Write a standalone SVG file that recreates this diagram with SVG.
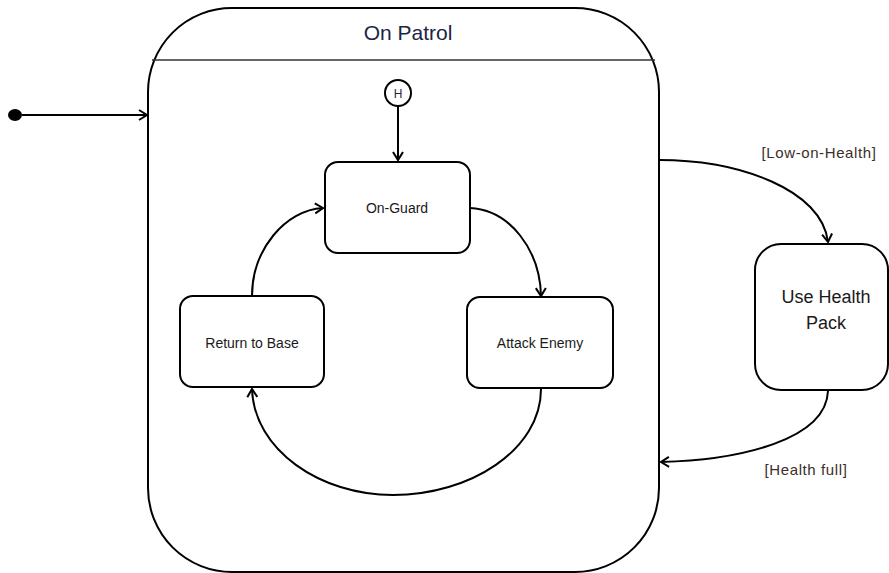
<svg xmlns="http://www.w3.org/2000/svg" width="889" height="573" viewBox="0 0 889 573">
<defs>
<marker id="arr" markerUnits="userSpaceOnUse" markerWidth="14" markerHeight="14" refX="9" refY="6" orient="auto">
<path d="M1,1 L9,6 L1,11" fill="none" stroke="#000" stroke-width="2"/>
</marker>
<style>
.box{fill:#fff;stroke:#000;stroke-width:2}
.edge{fill:none;stroke:#000;stroke-width:2;marker-end:url(#arr)}
.t{font-family:"Liberation Sans",Arial,sans-serif;fill:#1a1a1a;text-anchor:middle}
.lbl{font-family:"Liberation Sans",Arial,sans-serif;fill:#3a2f2a;font-size:15px;text-anchor:middle;letter-spacing:0.6px}
</style>
</defs>
<rect width="889" height="573" fill="#fff"/>
<g id="onpatrol">
<rect class="box" x="148" y="8" width="511" height="564" rx="84" ry="84"/>
<line x1="152" y1="60" x2="655" y2="60" stroke="#333" stroke-width="1.5"/>
<text class="t" x="408" y="40" font-size="21" fill="#1c2541" style="fill:#1c2541">On Patrol</text>
</g>
<g id="initial">
<ellipse cx="15" cy="115" rx="7" ry="6" fill="#000"/>
</g>
<g id="history">
<circle cx="398" cy="93" r="13" fill="#fff" stroke="#000" stroke-width="2"/>
<text class="t" x="398" y="98" font-size="12" style="fill:#2a1a4a">H</text>
</g>
<g id="onguard">
<rect class="box" x="325" y="162" width="145" height="91" rx="13" ry="13"/>
<text class="t" x="397" y="213" font-size="14">On-Guard</text>
</g>
<g id="returntobase">
<rect class="box" x="180" y="296" width="144" height="91" rx="13" ry="13"/>
<text class="t" x="252" y="348" font-size="14">Return to Base</text>
</g>
<g id="attackenemy">
<rect class="box" x="467" y="297" width="146" height="91" rx="13" ry="13"/>
<text class="t" x="540" y="348" font-size="14">Attack Enemy</text>
</g>
<g id="usehealthpack">
<rect class="box" x="755" y="244" width="133" height="146" rx="26" ry="26"/>
<text class="t" x="826" y="303" font-size="18">Use Health</text>
<text class="t" x="826" y="329" font-size="18">Pack</text>
</g>
<g id="connectors">
<path class="edge" d="M22,115 L147,115"/>
<path class="edge" d="M398,106 L398,160"/>
<path class="edge" d="M470,208 C510,210 540,250 541,296"/>
<path class="edge" d="M252,296 C252,250 285,210 323,208"/>
<path class="edge" d="M541,389 C541,450 470,495 393,495 C320,495 254,450 252,389"/>
<path class="edge" d="M659,160 C740,160 822,190 828,242"/>
<path class="edge" d="M828,391 C826,440 740,460 661,462"/>
<text class="lbl" x="819" y="158">[Low-on-Health]</text>
<text class="lbl" x="806" y="475">[Health full]</text>
</g>
</svg>
